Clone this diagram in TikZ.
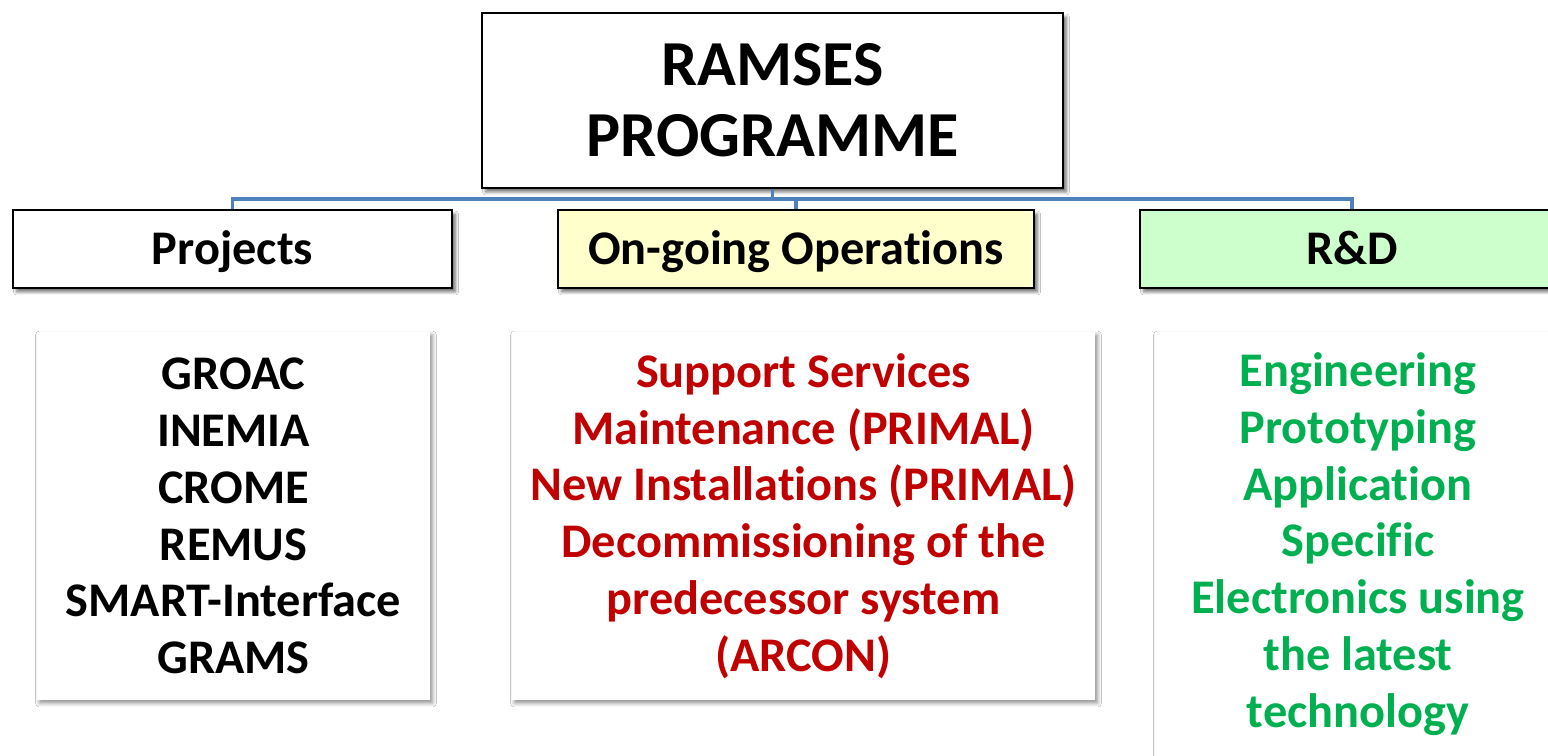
\documentclass[tikz,border=0pt]{standalone}
\usepackage{fontspec}
\setmainfont{Carlito}[Ligatures={NoCommon}]
\usetikzlibrary{shadows,shadows.blur}

\definecolor{linkblue}{HTML}{4F81BD}
\definecolor{opsred}{HTML}{C00000}
\definecolor{rdgreen}{HTML}{00B050}
\definecolor{opsfill}{HTML}{FFFFCC}
\definecolor{rdfill}{HTML}{CCFFCC}

\begin{document}
\begin{tikzpicture}[
    x=0.02cm, y=-0.02cm,
    headbox/.style={rectangle, draw=black, line width=1pt, fill=white, align=center,
        font=\bfseries\fontsize{27.5}{32}\selectfont, minimum height=1.56cm,
        text height=22pt, text depth=4pt,
        blur shadow={shadow xshift=0.07cm, shadow yshift=-0.08cm, shadow blur steps=6, shadow blur radius=0.06cm, shadow opacity=55}},
    listbox/.style={rectangle, fill=white, align=center,
        font=\bfseries\fontsize{27.5}{32.3}\selectfont,
        blur shadow={shadow xshift=0.05cm, shadow yshift=-0.06cm, shadow blur steps=6, shadow blur radius=0.08cm, shadow opacity=45}},
    link/.style={draw=linkblue, line width=2.2pt}
]
    \clip (0,0) rectangle (1548,756);
    \fill[white] (0,0) rectangle (1548,756);

    % Top level
    \node[headbox, minimum width=11.62cm, minimum height=3.5cm, text height=, text depth=,
          font=\bfseries\fontsize{36.5}{42.5}\selectfont] (ramses) at (772.5,100.5) {\raisebox{-2pt}{RAMSES}\\PROGRAMME};

    % Middle level
    \node[headbox, minimum width=8.78cm] (projects) at (232.5,249) {Projects};
    \node[headbox, minimum width=9.52cm, fill=opsfill] (ops) at (796,249) {On-going Operations};
    \node[headbox, minimum width=8.48cm, fill=rdfill] (rnd) at (1352,249) {R\&D};

    % Bottom level
    \node[listbox, minimum width=7.86cm, minimum height=7.36cm] (projlist) at (233.5,516)
        {GROAC\\INEMIA\\CROME\\REMUS\\SMART-Interface\\GRAMS};
    \node[listbox, minimum width=11.66cm, minimum height=7.36cm, text=opsred] (opslist) at (803.5,516)
        {Support Services\\Maintenance (PRIMAL)\\New Installations (PRIMAL)\\Decommissioning of the\\predecessor system\\(ARCON)};
    \node[listbox, minimum width=8.12cm, minimum height=8.48cm, text=rdgreen] (rndlist) at (1358,544)
        {Engineering\\Prototyping\\Application\\Specific\\Electronics using\\the latest\\technology};

    % Connectors
    \coordinate (bar) at (772.5,199);
    \draw[link] (ramses.south) -- (bar);
    \draw[link] (bar) -| (projects.north);
    \draw[link] (bar) -| (ops.north);
    \draw[link] (bar) -| (rnd.north);
\end{tikzpicture}
\end{document}
